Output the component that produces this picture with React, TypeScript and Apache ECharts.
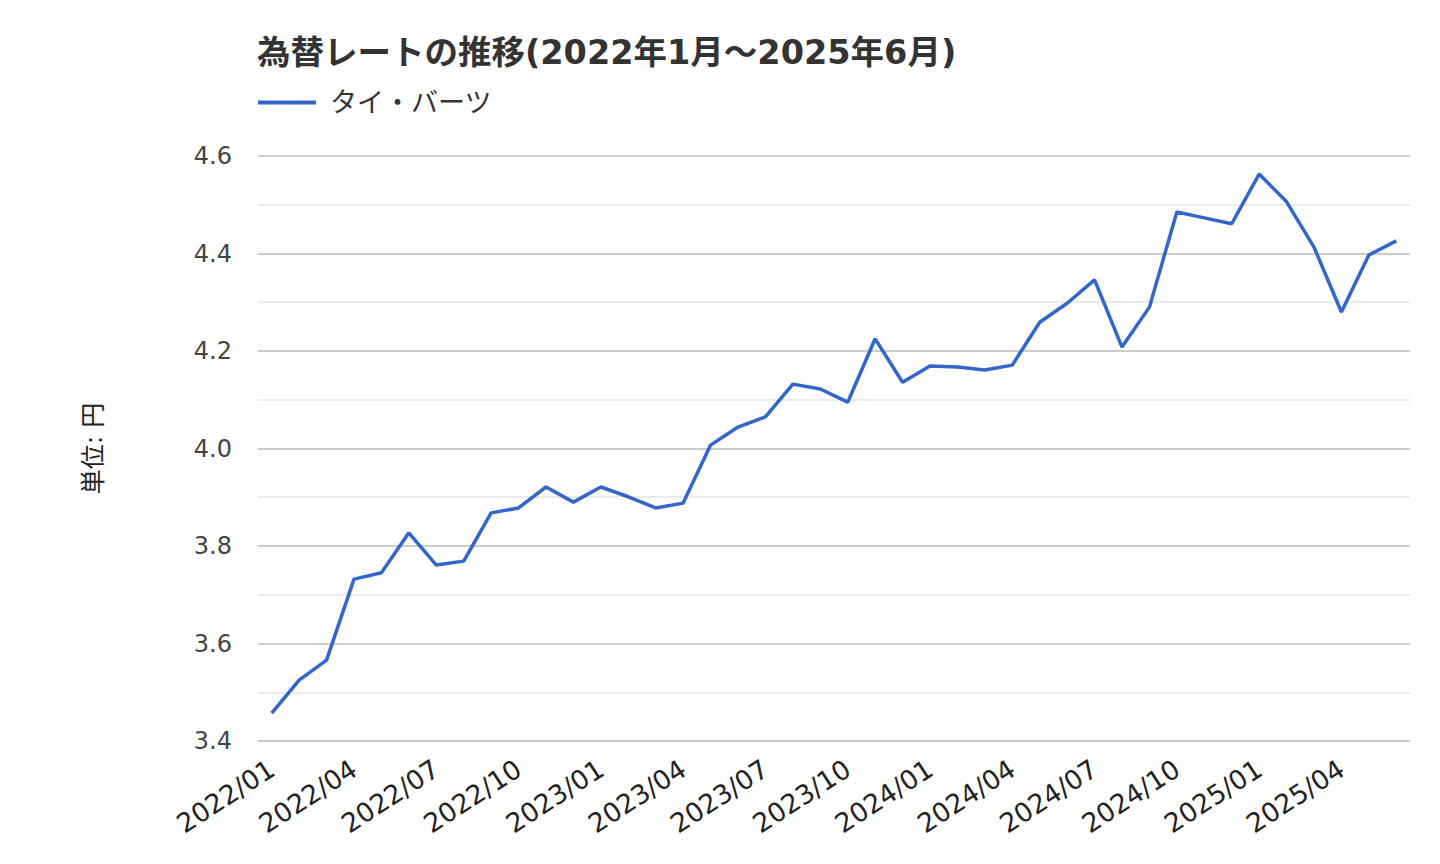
import React, { useEffect, useRef } from "react";
import * as echarts from "echarts";

const months: string[] = [
  "2022/01","2022/02","2022/03","2022/04","2022/05","2022/06","2022/07","2022/08","2022/09","2022/10","2022/11","2022/12",
  "2023/01","2023/02","2023/03","2023/04","2023/05","2023/06","2023/07","2023/08","2023/09","2023/10","2023/11","2023/12",
  "2024/01","2024/02","2024/03","2024/04","2024/05","2024/06","2024/07","2024/08","2024/09","2024/10","2024/11","2024/12",
  "2025/01","2025/02","2025/03","2025/04","2025/05","2025/06",
];

const thbValues: number[] = [
  3.457, 3.525, 3.566, 3.732, 3.745, 3.827, 3.761, 3.769, 3.868, 3.878, 3.921, 3.890,
  3.921, 3.901, 3.878, 3.888, 4.007, 4.044, 4.065, 4.132, 4.122, 4.095, 4.225, 4.136,
  4.169, 4.167, 4.161, 4.171, 4.259, 4.298, 4.346, 4.208, 4.290, 4.485, 4.473, 4.461,
  4.563, 4.506, 4.413, 4.280, 4.397, 4.426,
];

const titleText = "為替レートの推移(2022年1月～2025年6月)";
const seriesName = "タイ・バーツ";
const yAxisName = "単位: 円";

const FONT = '"DejaVu Sans", "Noto Sans CJK JP", sans-serif';

export default function App() {
  const ref = useRef<HTMLDivElement>(null);
  useEffect(() => {
    if (!ref.current) return;
    const chart = echarts.init(ref.current, undefined, { renderer: "svg" });
    chart.setOption({
      animation: false,
      backgroundColor: "#ffffff",
      title: {
        text: titleText,
        left: 252,
        top: 31,
        textStyle: { fontFamily: FONT, fontSize: 33.5, fontWeight: "bold", color: "#333333" },
      },
      legend: {
        left: 253,
        top: 84,
        icon: "rect",
        itemWidth: 58,
        itemHeight: 4,
        textStyle: { fontFamily: FONT, fontSize: 27, color: "#333333", padding: [0, 0, 0, 9] },
        data: [seriesName],
      },
      grid: { left: 258, right: 30, top: 156, bottom: 123, containLabel: false },
      xAxis: {
        type: "category",
        data: months,
        boundaryGap: true,
        axisLine: { show: false },
        axisTick: { show: false },
        axisLabel: {
          interval: 2,
          rotate: 33,
          margin: 25,
          fontFamily: FONT,
          fontSize: 26.5,
          color: "#222222",
        },
      },
      yAxis: {
        type: "value",
        min: 3.4,
        max: 4.6,
        interval: 0.2,
        name: yAxisName,
        nameLocation: "middle",
        nameGap: 152,
        nameRotate: 90,
        nameTextStyle: { fontFamily: FONT, fontSize: 25, color: "#222222" },
        axisLine: { show: false },
        axisTick: { show: false },
        axisLabel: {
          margin: 26,
          fontFamily: FONT,
          fontSize: 24,
          color: "#444444",
          formatter: (v: number) => v.toFixed(1),
        },
        splitLine: { show: true, lineStyle: { color: "#cccccc", width: 2 } },
        minorTick: { show: false, splitNumber: 2 },
        minorSplitLine: { show: true, lineStyle: { color: "#ebebeb", width: 2 } },
      },
      series: [
        {
          name: seriesName,
          type: "line",
          data: thbValues,
          showSymbol: false,
          symbol: "none",
          lineStyle: { color: "#3366cc", width: 3.5 },
          itemStyle: { color: "#3366cc" },
        },
      ],
    });
    return () => chart.dispose();
  }, []);
  return (
    <div
      ref={ref}
      style={{ position: "fixed", left: 0, top: 0, width: 1440, height: 864 }}
    />
  );
}
